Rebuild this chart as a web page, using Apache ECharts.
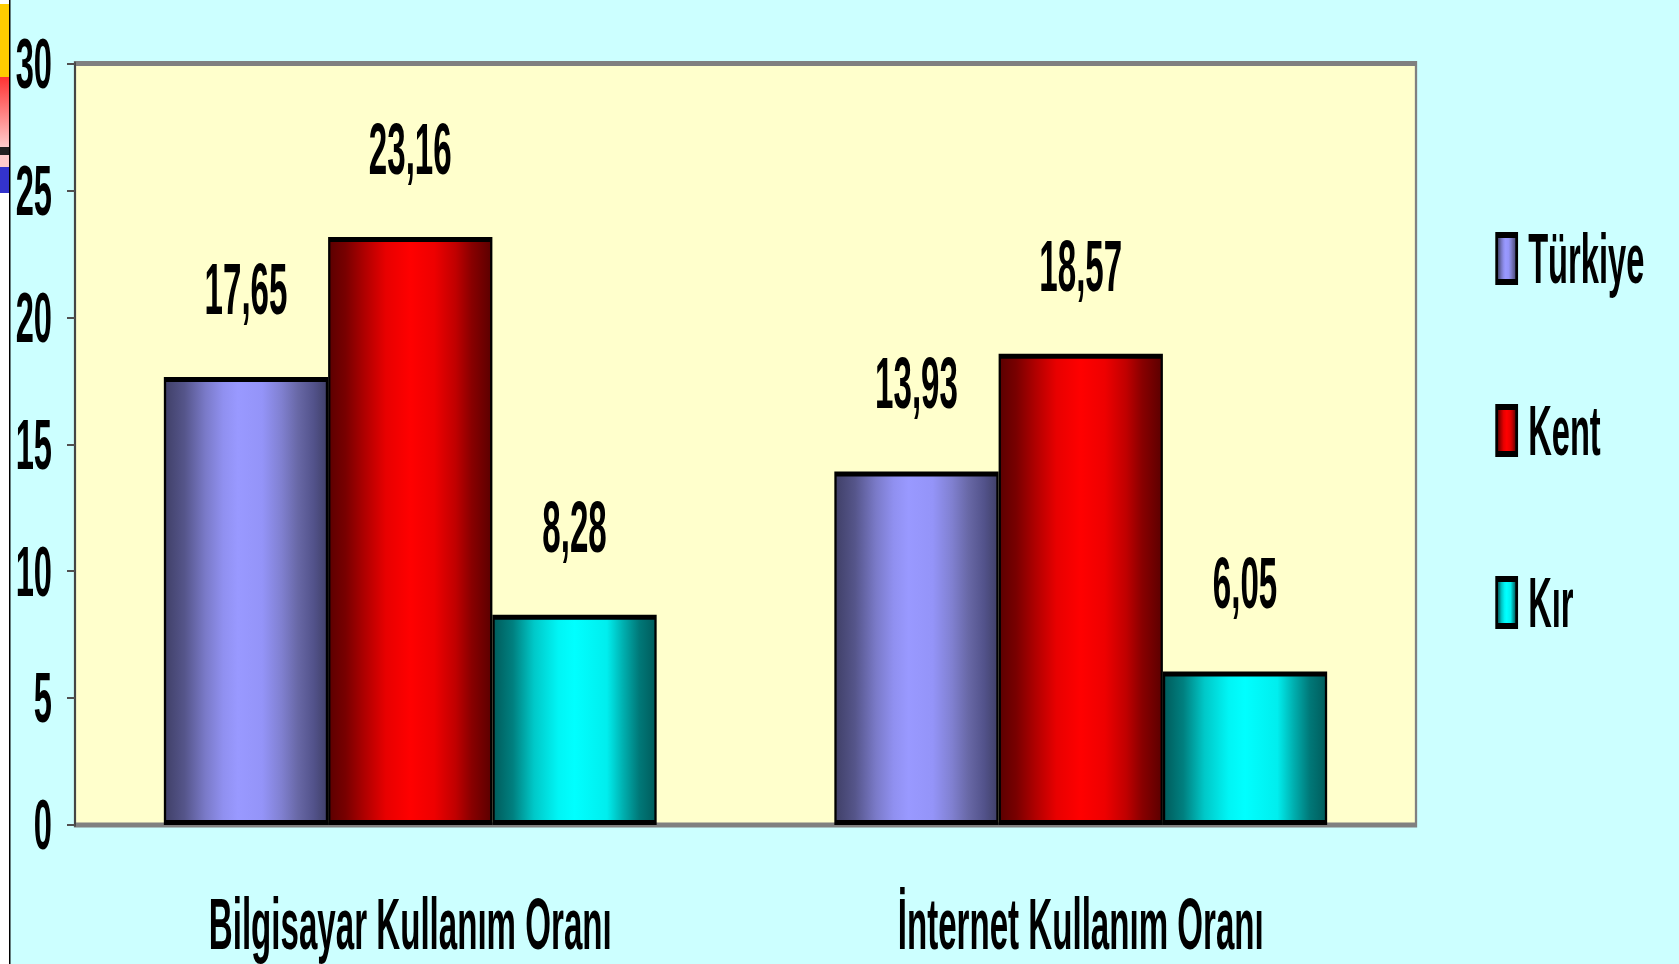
<!DOCTYPE html>
<html>
<head>
<meta charset="utf-8">
<script src="https://cdn.jsdelivr.net/npm/echarts@6/dist/echarts.min.js"></script>
<style>
html,body{margin:0;padding:0;overflow:hidden;background:#CCFFFF;}
#wrap{width:1679px;height:964px;overflow:hidden;position:relative;background:#CCFFFF;}
#c{position:absolute;left:0;top:0;height:964px;transform-origin:0 0;}
</style>
</head>
<body>
<div id="wrap"><div id="c"></div></div>
<script>
// ---- data ----
const categories = ['Bilgisayar Kullanım Oranı', 'İnternet Kullanım Oranı'];
const seriesNames = ['Türkiye', 'Kent', 'Kır'];
const turkiyeValues = [17.65, 13.93];
const kentValues = [23.16, 18.57];
const kirValues = [8.28, 6.05];
const yTicks = [0, 5, 10, 15, 20, 25, 30];

// ---- layout (horizontal condense of the whole drawing) ----
const S = 0.46;
const px = v => v / S;
const el = document.getElementById('c');
el.style.width = (1679 / S) + 'px';
el.style.transform = 'scaleX(' + S + ')';

const FONT = '"Liberation Sans", Arial, sans-serif';

function grad(stops) {
  return new echarts.graphic.LinearGradient(0, 0, 1, 0,
    stops.map(s => ({offset: s[0], color: s[1]})));
}
const gTurkiye = grad([[0,'#404068'],[0.12,'#55558a'],[0.25,'#7a7ac8'],[0.36,'#9090f0'],[0.45,'#9999ff'],[0.6,'#9494f8'],[0.72,'#8080d0'],[0.82,'#6868a6'],[0.92,'#52528a'],[1,'#404068']]);
const gKent = grad([[0,'#5c0000'],[0.1,'#780000'],[0.22,'#b00000'],[0.35,'#e80000'],[0.5,'#ff0000'],[0.65,'#ee0000'],[0.78,'#c00000'],[0.88,'#880000'],[1,'#5c0000']]);
const gKir = grad([[0,'#005c5c'],[0.12,'#008080'],[0.25,'#00c8c8'],[0.4,'#00f5f5'],[0.5,'#00ffff'],[0.7,'#00eeee'],[0.8,'#00b0b0'],[0.9,'#007878'],[1,'#005c5c']]);

const fmt = p => p.value.toFixed(2).replace('.', ',');

function mkSeries(name, data, g) {
  return {
    name: name,
    type: 'bar',
    data: data,
    barGap: '0%',
    barCategoryGap: '26.5%',
    itemStyle: {color: g, borderColor: '#000', borderWidth: 5},
    label: {
      show: true, position: 'top', distance: 52, formatter: fmt,
      fontFamily: FONT, fontWeight: 'bold', fontSize: 72, color: '#000'
    },
    emphasis: {disabled: true}
  };
}

const chart = echarts.init(el, null, {renderer: 'svg'});
chart.setOption({
  animation: false,
  backgroundColor: '#CCFFFF',
  textStyle: {fontFamily: FONT},
  grid: {
    left: px(75), right: px(263), top: 63.5, bottom: 139,
    show: true, backgroundColor: '#FFFFCC', borderColor: '#808080', borderWidth: 5
  },
  legend: {
    orient: 'vertical',
    left: px(1493), top: 218,
    itemWidth: px(20), itemHeight: 47, itemGap: 101,
    icon: 'rect',
    data: seriesNames,
    itemStyle: {borderColor: '#000', borderWidth: 6},
    textStyle: {fontFamily: FONT, fontWeight: 'bold', fontSize: 71, lineHeight: 50, color: '#000', padding: [0,0,0,20]}
  },
  xAxis: {
    type: 'category',
    data: categories,
    axisLine: {show: false},
    axisTick: {show: false},
    axisLabel: {
      margin: 63, fontFamily: FONT, fontWeight: 'bold', fontSize: 72, color: '#000'
    }
  },
  yAxis: {
    type: 'value',
    min: yTicks[0], max: yTicks[yTicks.length - 1], interval: yTicks[1] - yTicks[0],
    splitLine: {show: false},
    axisLine: {show: true, lineStyle: {color: '#404040', width: 4}},
    axisTick: {show: true, length: px(8), lineStyle: {color: '#505050', width: 2}},
    axisLabel: {
      margin: px(23), fontFamily: FONT, fontWeight: 'bold', fontSize: 71, color: '#000'
    }
  },
  series: [
    mkSeries(seriesNames[0], turkiyeValues, gTurkiye),
    mkSeries(seriesNames[1], kentValues, gKent),
    mkSeries(seriesNames[2], kirValues, gKir)
  ],
  graphic: [
    {type: 'rect', shape: {x: 0, y: 0, width: px(9), height: 964}, style: {fill: '#FFFFFF'}, silent: true},
    {type: 'rect', shape: {x: 0, y: 4, width: px(9), height: 73}, style: {fill: '#FFCC00'}, silent: true},
    {type: 'rect', shape: {x: 0, y: 77, width: px(9), height: 70},
      style: {fill: new echarts.graphic.LinearGradient(0, 0, 0, 1, [{offset: 0, color: '#FF3333'}, {offset: 1, color: '#FFCCCC'}])}, silent: true},
    {type: 'rect', shape: {x: 0, y: 147, width: px(9), height: 8}, style: {fill: '#222222'}, silent: true},
    {type: 'rect', shape: {x: 0, y: 155, width: px(9), height: 12}, style: {fill: '#FFCCCC'}, silent: true},
    {type: 'rect', shape: {x: 0, y: 167, width: px(9), height: 26}, style: {fill: '#3333CC'}, silent: true},
    {type: 'rect', shape: {x: px(9), y: 0, width: px(1.5), height: 964}, style: {fill: '#000000'}, silent: true}
  ]
});
</script>
</body>
</html>
